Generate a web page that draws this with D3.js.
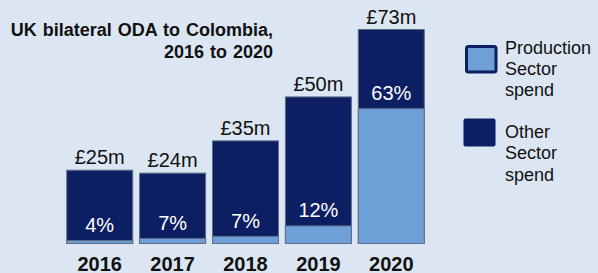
<!DOCTYPE html>
<html><head><meta charset="utf-8">
<script src="https://cdn.jsdelivr.net/npm/d3@7"></script>
<style>html,body{margin:0;padding:0;background:#dce6f2;}svg{display:block;font-family:"Liberation Sans",Arial,sans-serif;}</style>
</head><body>
<script>
const years = ["2016","2017","2018","2019","2020"];
const totals = [25, 24, 35, 50, 73];
const productionShare = [4, 7, 7, 12, 63];
const totalLabels = ["£25m","£24m","£35m","£50m","£73m"];
const legendItems = [["Production","Sector","spend"],["Other","Sector","spend"]];

const W = 598, H = 273;
const navy = "#0c1f63", light = "#6e9fd6", edge = "#5d6e88";
const svg = d3.select("body").append("svg").attr("width", W).attr("height", H);
svg.append("rect").attr("width", W).attr("height", H).attr("fill", "#dce6f2");

const x = d3.scaleBand().domain(years).range([63.3, 427.7]).paddingInner(0.095).paddingOuter(0.047);
const y = d3.scaleLinear().domain([0, 73]).range([243.5, 29.5]);

const g = svg.append("g");
years.forEach((yr, i) => {
  const tot = totals[i], prod = tot * productionShare[i] / 100;
  g.append("rect").attr("x", x(yr)).attr("width", x.bandwidth())
    .attr("y", y(tot)).attr("height", y(0) - y(tot))
    .attr("fill", navy).attr("stroke", edge).attr("stroke-width", 1);
  g.append("rect").attr("x", x(yr)).attr("width", x.bandwidth())
    .attr("y", y(prod)).attr("height", y(0) - y(prod))
    .attr("fill", light).attr("stroke", edge).attr("stroke-width", 1);
  g.append("text").attr("x", x(yr) + x.bandwidth()/2).attr("y", y(tot) - 6)
    .attr("text-anchor", "middle").attr("font-size", 20).attr("fill", "#111").text(totalLabels[i]);
  g.append("text").attr("x", x(yr) + x.bandwidth()/2).attr("y", y(prod) - 8.5)
    .attr("text-anchor", "middle").attr("font-size", 20).attr("fill", "#fff").text(productionShare[i] + "%");
});

const xAxis = svg.append("g").attr("transform", "translate(0,243.5)")
  .call(d3.axisBottom(x).tickSize(0).tickPadding(0));
xAxis.select(".domain").remove();
xAxis.selectAll("text").attr("font-size", 20).attr("font-weight", "bold").attr("fill", "#111")
  .attr("font-family", "Liberation Sans, Arial, sans-serif").attr("dy", 0).attr("y", 27);

svg.append("text").attr("x", 273).attr("y", 35.5).attr("text-anchor", "end").attr("font-size", 18).attr("font-weight", "bold").attr("fill", "#111")
  .attr("word-spacing", 1).text("UK bilateral ODA to Colombia,");
svg.append("text").attr("x", 273).attr("y", 58).attr("text-anchor", "end").attr("font-size", 18).attr("font-weight", "bold").attr("fill", "#111")
  .attr("word-spacing", 1).text("2016 to 2020");

// legend
const lg = svg.append("g");
lg.append("rect").attr("x", 466.5).attr("y", 46.5).attr("width", 29.5).attr("height", 25.5)
  .attr("fill", light).attr("stroke", navy).attr("stroke-width", 3).attr("rx", 2);
lg.append("rect").attr("x", 463.5).attr("y", 118.5).attr("width", 32).attr("height", 28)
  .attr("fill", navy).attr("rx", 2);
const legendBase = [53.5, 138];
legendItems.forEach((lines, k) => {
  lines.forEach((t, j) => {
    lg.append("text").attr("x", 505).attr("y", legendBase[k] + j * 21.3)
      .attr("font-size", 18).attr("fill", "#111").text(t);
  });
});
</script>
</body></html>
